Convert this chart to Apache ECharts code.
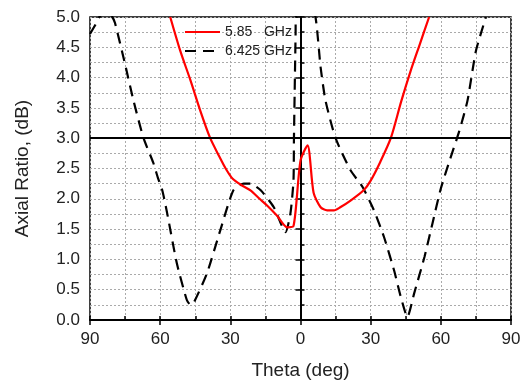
<!DOCTYPE html>
<html><head><meta charset="utf-8">
<script src="https://cdn.jsdelivr.net/npm/echarts@6/dist/echarts.min.js"></script>
<style>html,body{margin:0;padding:0;background:#fff}#c{width:524px;height:381px}</style>
</head><body><div id="c"></div>
<script>
const xTickLabels = [90, 60, 30, 0, 30, 60, 90];
const yTickLabels = ['0.0','0.5','1.0','1.5','2.0','2.5','3.0','3.5','4.0','4.5','5.0'];
const seriesNames = ['5.85   GHz', '6.425 GHz'];
const thetaRed = [-55.7,-51.4,-47,-42.9,-38.6,-35,-32,-29,-25,-21.4,-17.5,-14.3,-10,-5.7,-3,0,3,5.6,8.6,11.4,14.3,17,21.4,27,30,34,38.6,43,47,51,55];
const arRed = [5.0,4.44,3.95,3.46,3.0,2.72,2.5,2.33,2.22,2.14,2.0,1.89,1.72,1.53,1.55,2.63,2.88,2.1,1.86,1.81,1.81,1.86,1.97,2.14,2.3,2.6,3.0,3.6,4.1,4.55,5.0];
const thetaBlack = [-90,-88,-86,-83,-80.5,-79.3,-75,-71.4,-67.1,-63,-61,-59.1,-57,-52.9,-48.6,-47,-45.7,-40,-34.3,-28.7,-24.3,-21.4,-17,-11.4,-6.4,-4.3,-3,-2.8,-2.1,-2,2,6.4,8.6,10.7,15,21.4,26.6,31.4,35.7,40,42.9,45.7,48.6,53,56.4,60,64,67.9,71.4,75,79.3];
const arBlack = [4.72,4.85,5.0,5.1,5.0,4.9,4.22,3.62,3.0,2.6,2.35,2.14,1.76,0.94,0.33,0.25,0.28,0.77,1.48,2.14,2.25,2.25,2.14,1.86,1.45,1.76,2.3,3.0,4.72,5.0,5.6,5.0,4.17,3.62,3.0,2.47,2.19,1.81,1.37,0.82,0.38,0.05,0.44,1.04,1.59,2.17,2.66,3.12,3.62,4.44,5.0];
const refLevel = 3.0;

const font = 'Liberation Sans, Arial, sans-serif';
const chart = echarts.init(document.getElementById('c'), null, {renderer:'canvas'});
const zip = (a,b)=>a.map((v,i)=>[v,b[i]]);
chart.setOption({
  animation:false,
  grid:{left:90,right:13,top:17,bottom:61,show:true,borderColor:'#000',borderWidth:1.5,backgroundColor:'transparent',
    containLabel:false, outerBoundsMode:'none'},
  legend:{
    orient:'vertical', left:179, top:20, itemWidth:35, itemHeight:14, itemGap:5,
    itemStyle:{opacity:0},
    textStyle:{fontSize:14,color:'#222',fontFamily:font},
    data:[{name:seriesNames[0]},{name:seriesNames[1]}]
  },
  xAxis:[{
    type:'value', min:-90, max:90, interval:30, position:'bottom',
    axisLine:{lineStyle:{color:'#000',width:2}},
    axisTick:{show:true,length:5,lineStyle:{color:'#000',width:1.5}},
    axisLabel:{fontSize:17,color:'#222',fontFamily:font,margin:11,
      formatter:(v)=>{const i=Math.round((v+90)/30);return String(xTickLabels[i]);}},
    splitLine:{show:false},
    name:'Theta (deg)', nameLocation:'middle', nameGap:41,
    nameTextStyle:{fontSize:19,color:'#222',fontFamily:font}
  },{
    type:'value', min:-90, max:90, interval:15, position:'bottom',
    axisLine:{show:false},
    axisTick:{show:true,inside:true,length:4,lineStyle:{color:'#000',width:1.5}},
    axisLabel:{show:false},
    splitLine:{show:true,lineStyle:{color:'#aaa',type:[2,2],width:1}}
  }],
  yAxis:[{
    type:'value', min:0, max:5, interval:0.5,
    axisLine:{show:true,lineStyle:{color:'#000',width:2}},
    axisTick:{show:true,length:5,lineStyle:{color:'#000',width:1.5}},
    axisLabel:{fontSize:17,color:'#222',fontFamily:font,margin:10,
      formatter:(v)=>yTickLabels[Math.round(v/0.5)]},
    splitLine:{show:false},
    name:'Axial Ratio, (dB)', nameLocation:'middle', nameGap:58,
    nameTextStyle:{fontSize:19,color:'#222',fontFamily:font}
  },{
    type:'value', min:0, max:5, interval:0.25, position:'left',
    axisLine:{show:false},
    axisTick:{show:true,inside:true,length:4,lineStyle:{color:'#000',width:1.5}},
    axisLabel:{show:false},
    splitLine:{show:true,lineStyle:{color:'#aaa',type:[2,2],width:1}}
  }],
  series:[{
    name:seriesNames[0], type:'line', xAxisIndex:0, yAxisIndex:0,
    data:zip(thetaRed,arRed), showSymbol:false, symbol:'none', clip:true, smooth:0.25,
    lineStyle:{color:'#f00',width:2.2}, itemStyle:{color:'#f00'}, z:4,
    markLine:{silent:true,symbol:'none',label:{show:false},
      lineStyle:{color:'#000',width:2,type:'solid'},data:[{yAxis:refLevel}]}
  },{
    name:seriesNames[1], type:'line', xAxisIndex:0, yAxisIndex:0,
    data:zip(thetaBlack,arBlack), showSymbol:false, symbol:'none', clip:true, smooth:0.2,
    lineStyle:{color:'#000',width:2.2,type:[11,7]}, itemStyle:{color:'#000'}, z:3
  }]
});
</script></body></html>
